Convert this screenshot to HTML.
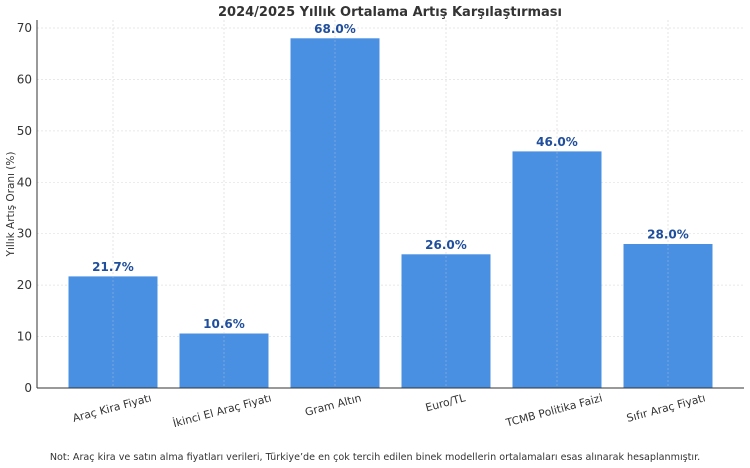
<!DOCTYPE html>
<html><head><meta charset="utf-8"><style>html,body{margin:0;padding:0;background:#fff}svg{display:block}</style></head><body>
<svg width="750" height="468" xmlns="http://www.w3.org/2000/svg" font-family="DejaVu Sans, Liberation Sans, sans-serif">
<rect width="750" height="468" fill="#fff"/>
<g stroke="#e0e0e0" stroke-width="0.7" stroke-dasharray="2,2">
<line x1="37" x2="744" y1="336.6" y2="336.6"/><line x1="37" x2="744" y1="285.1" y2="285.1"/><line x1="37" x2="744" y1="233.7" y2="233.7"/><line x1="37" x2="744" y1="182.3" y2="182.3"/><line x1="37" x2="744" y1="130.9" y2="130.9"/><line x1="37" x2="744" y1="79.4" y2="79.4"/><line x1="37" x2="744" y1="28" y2="28"/>
<line x1="113" x2="113" y1="20" y2="388"/><line x1="224" x2="224" y1="20" y2="388"/><line x1="335" x2="335" y1="20" y2="388"/><line x1="446" x2="446" y1="20" y2="388"/><line x1="557" x2="557" y1="20" y2="388"/><line x1="668" x2="668" y1="20" y2="388"/>
</g>
<g fill="#4a90e2">
<rect x="68.5" y="276.4" width="89" height="111.6"/>
<rect x="179.5" y="333.5" width="89" height="54.5"/>
<rect x="290.5" y="38.3" width="89" height="349.7"/>
<rect x="401.5" y="254.3" width="89" height="133.7"/>
<rect x="512.5" y="151.4" width="89" height="236.6"/>
<rect x="623.5" y="244" width="89" height="144"/>
</g>
<g stroke="#d9d9d9" stroke-width="0.6" stroke-dasharray="2,2" opacity="0.5">
<line x1="113" x2="113" y1="20" y2="388"/><line x1="224" x2="224" y1="20" y2="388"/><line x1="335" x2="335" y1="20" y2="388"/><line x1="446" x2="446" y1="20" y2="388"/><line x1="557" x2="557" y1="20" y2="388"/><line x1="668" x2="668" y1="20" y2="388"/>
</g>
<g stroke="#333" stroke-width="1"><line x1="37" x2="37" y1="20" y2="388"/><line x1="37" x2="744" y1="388" y2="388"/></g>
<g font-size="12" fill="#333" text-anchor="end">
<text x="32" y="392">0</text><text x="32" y="340.6">10</text><text x="32" y="289.1">20</text><text x="32" y="237.7">30</text><text x="32" y="186.3">40</text><text x="32" y="134.9">50</text><text x="32" y="83.4">60</text><text x="32" y="32">70</text>
</g>
<g font-size="12" font-weight="bold" fill="#1f4e9c" text-anchor="middle">
<text x="113" y="271">21.7%</text><text x="224" y="328">10.6%</text><text x="335" y="33">68.0%</text><text x="446" y="249">26.0%</text><text x="557" y="146">46.0%</text><text x="668" y="238.5">28.0%</text>
</g>
<text x="390" y="16" font-size="13" font-weight="bold" fill="#333" text-anchor="middle">2024/2025 Yıllık Ortalama Artış Karşılaştırması</text>
<text transform="translate(14,204) rotate(-90)" font-size="10.5" fill="#333" text-anchor="middle">Yıllık Artış Oranı (%)</text>
<g font-size="10.8" fill="#333" text-anchor="end">
<text transform="translate(152,401) rotate(-15)">Araç Kira Fiyatı</text>
<text transform="translate(272,401) rotate(-15)">İkinci El Araç Fiyatı</text>
<text transform="translate(362,401) rotate(-15)">Gram Altın</text>
<text transform="translate(466,401) rotate(-15)">Euro/TL</text>
<text transform="translate(603,401) rotate(-15)">TCMB Politika Faizi</text>
<text transform="translate(706,401) rotate(-15)">Sıfır Araç Fiyatı</text>
</g>
<text x="375" y="460" font-size="9.6" fill="#333" text-anchor="middle">Not: Araç kira ve satın alma fiyatları verileri, Türkiye’de en çok tercih edilen binek modellerin ortalamaları esas alınarak hesaplanmıştır.</text>
</svg>
</body></html>
